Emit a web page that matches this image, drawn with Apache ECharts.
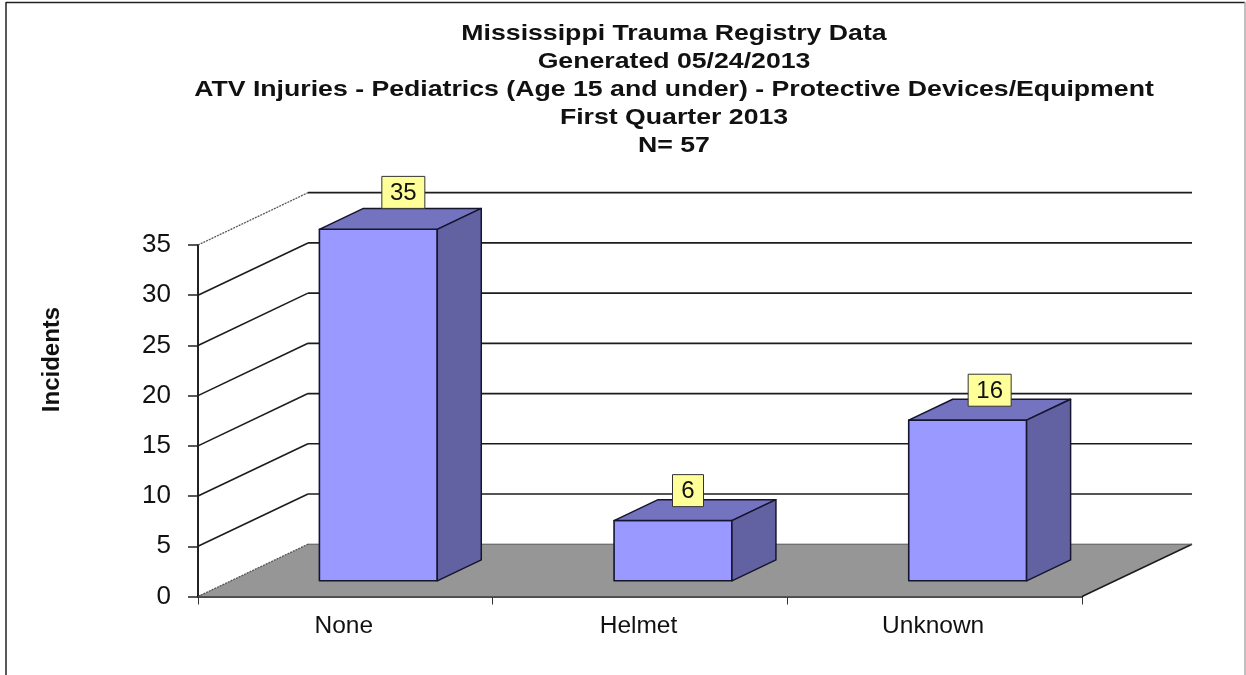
<!DOCTYPE html>
<html>
<head>
<meta charset="utf-8">
<style>html,body{margin:0;padding:0;background:#fff}#c{width:1246px;height:675px}</style>
<script src="https://cdn.jsdelivr.net/npm/echarts@6/dist/echarts.min.js"></script>
</head>
<body>
<div id="c"></div>
<script>
var categories = ['None', 'Helmet', 'Unknown'];
var incidents = [35, 6, 16];
var gridValues = [0, 5, 10, 15, 20, 25, 30, 35];
var titleLines = [
  'Mississippi Trauma Registry Data',
  'Generated 05/24/2013',
  'ATV Injuries - Pediatrics (Age 15 and under) - Protective Devices/Equipment',
  'First Quarter 2013',
  'N= 57'
];

// 3D projection of the chart box
var DX = 110, DY = 52.3;
var BAR_W = 0.4, BAR_NEAR = 0.3, BAR_FAR = 0.7;
var labelShift = [[25, -7], [15, 0], [22, 0]];
var FONT = '"Liberation Sans", Arial, sans-serif';
var LINE = '#1c1c1c';

function seg(x1, y1, x2, y2, color, w, extra) {
  return {type: 'line', shape: {x1: x1, y1: y1, x2: x2, y2: y2},
    style: Object.assign({stroke: color, lineWidth: w}, extra || {})};
}
function poly(points, fill, stroke, w) {
  return {type: 'polygon', shape: {points: points},
    style: {fill: fill, stroke: stroke, lineWidth: w, lineJoin: 'round'}};
}

var chart = echarts.init(document.getElementById('c'));
var graphics = titleLines.map(function (t, i) {
  return {type: 'text', silent: true, x: 674, y: 33.5 + 28 * i, scaleX: 1.212,
    style: {text: t, align: 'center', verticalAlign: 'middle', fontFamily: FONT, fontSize: 22, fontWeight: 'bold', fill: '#111'}};
}).concat([
  {type: 'text', silent: true, x: 52.5, y: 359.5, rotation: Math.PI / 2,
    style: {text: 'Incidents', align: 'center', verticalAlign: 'middle', fontFamily: FONT, fontSize: 24, fontWeight: 'bold', fill: '#111'}},
  {type: 'line', silent: true, shape: {x1: 6, y1: 2.5, x2: 1245, y2: 2.5}, style: {stroke: '#222', lineWidth: 1.5}},
  {type: 'line', silent: true, shape: {x1: 6, y1: 2, x2: 6, y2: 675}, style: {stroke: '#222', lineWidth: 1.5}},
  {type: 'line', silent: true, shape: {x1: 1245, y1: 2, x2: 1245, y2: 675}, style: {stroke: '#aaa', lineWidth: 1.5}}
]);

chart.setOption({
  animation: false,
  backgroundColor: '#fff',
  grid: {left: 198, right: 164, top: 245, bottom: 78.5},
  xAxis: {
    type: 'category', data: categories,
    axisLine: {lineStyle: {color: '#111', width: 2.5}},
    axisTick: {show: true, alignWithLabel: false, length: 8, lineStyle: {color: '#333', width: 1}},
    axisLabel: {fontFamily: FONT, fontSize: 24.5, color: '#111', margin: 17, padding: [0, 3, 0, 0]},
    splitLine: {show: false}
  },
  yAxis: {
    type: 'value', min: 0, max: 35, interval: 5,
    axisLine: {show: true, lineStyle: {color: '#222', width: 2}},
    axisTick: {show: true, length: 10, lineStyle: {color: '#222', width: 1.5}},
    axisLabel: {fontFamily: FONT, fontSize: 26, color: '#111', margin: 27, padding: [3, 0, 0, 0]},
    splitLine: {show: false}
  },
  series: [
    {
      type: 'custom', name: 'Walls', silent: true, clip: false, z: 1,
      data: gridValues,
      renderItem: function (params, api) {
        var v = api.value(0), cs = params.coordSys, y = api.coord([0, v])[1];
        var edge = v === 0 || v === 35;
        var kids = [];
        if (v !== 0) {
          kids.push(seg(cs.x, y, cs.x + DX, y - DY, edge ? '#555' : LINE, edge ? 1.3 : 1.6, edge ? {lineDash: [2, 1]} : null));
          kids.push(seg(cs.x + DX, y - DY, cs.x + cs.width + DX, y - DY, LINE, 1.7));
        }
        return {type: 'group', children: kids};
      },
      encode: {y: 0}
    },
    {
      type: 'custom', name: 'Floor', silent: true, clip: false, z: 2,
      data: [0],
      renderItem: function (params, api) {
        var cs = params.coordSys, y = api.coord([0, api.value(0)])[1];
        return {type: 'group', children: [
          poly([[cs.x, y], [cs.x + cs.width, y], [cs.x + cs.width + DX, y - DY], [cs.x + DX, y - DY]], '#969696', 'none', 0),
          seg(cs.x, y, cs.x + DX, y - DY, '#555', 1.3, {lineDash: [2, 1]}),
          seg(cs.x + cs.width, y, cs.x + cs.width + DX, y - DY, LINE, 1.5),
          seg(cs.x + DX, y - DY, cs.x + cs.width + DX, y - DY, '#555', 1)
        ]};
      },
      encode: {y: 0}
    },
    {
      type: 'custom', name: 'Incidents', silent: true, clip: false, z: 3,
      data: incidents.map(function (v, i) { return [i, v]; }),
      renderItem: function (params, api) {
        var i = api.value(0), v = api.value(1);
        var band = api.size([1, 0])[0];
        var w = band * BAR_W;
        var p0 = api.coord([i, 0]), p1 = api.coord([i, v]);
        var l = p0[0] + DX * BAR_NEAR - w / 2, r = l + w;
        var b = p0[1] - DY * BAR_NEAR, t = p1[1] - DY * BAR_NEAR;
        var dx = DX * (BAR_FAR - BAR_NEAR), dy = DY * (BAR_FAR - BAR_NEAR);
        var text = String(v);
        var bw = text.length > 1 ? 43 : 31, bh = 32;
        var cx = p0[0] + DX * BAR_NEAR + labelShift[i][0];
        var by = t - dy + 7 - bh + labelShift[i][1];
        return {type: 'group', children: [
          poly([[l, b], [r, b], [r, t], [l, t]], '#9999FF', '#15152e', 1.6),
          poly([[l, t], [r, t], [r + dx, t - dy], [l + dx, t - dy]], '#7373BF', '#15152e', 1.5),
          poly([[r, b], [r + dx, b - dy], [r + dx, t - dy], [r, t]], '#6262A3', '#15152e', 1.5),
          {type: 'rect', shape: {x: cx - bw / 2, y: by, width: bw, height: bh},
            style: {fill: '#FFFF99', stroke: '#333', lineWidth: 1}},
          {type: 'text', style: {text: text, x: cx, y: by + bh / 2 + 1, align: 'center', verticalAlign: 'middle',
            fontFamily: FONT, fontSize: 24, fill: '#111'}}
        ]};
      },
      encode: {x: 0, y: 1}
    }
  ],
  graphic: graphics
});
</script>
</body>
</html>
